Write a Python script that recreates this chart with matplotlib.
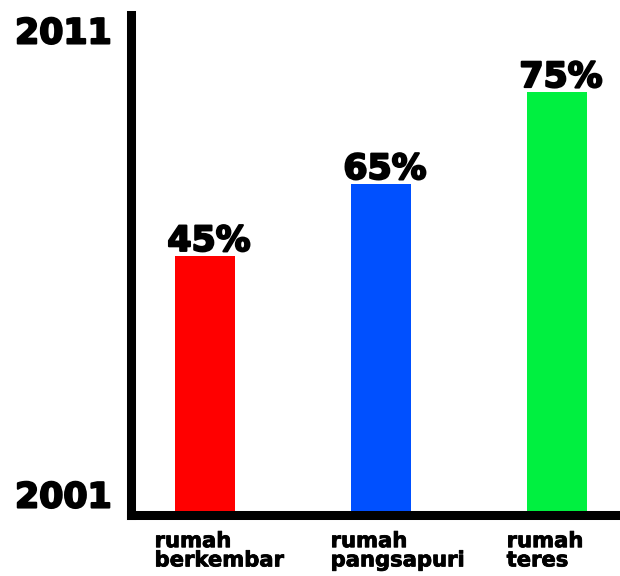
import matplotlib
matplotlib.use("Agg")
import matplotlib.pyplot as plt
import matplotlib.patheffects as pe

categories = ["rumah\nberkembar", "rumah\npangsapuri", "rumah\nteres"]
value_labels = ["45%", "65%", "75%"]
bar_heights = [51.8, 66.2, 84.6]   # drawn bar lengths (axis 0-100)
bar_colors = ["#ff0000", "#0050ff", "#00f040"]
year_ticks = [4.1, 97]
year_labels = ["2001", "2011"]

FONT = "DejaVu Sans"
bold_fx = [pe.withStroke(linewidth=1.5, foreground="black")]

fig = plt.figure(figsize=(6.2, 5.76), dpi=100)
ax = fig.add_axes([131/620, (576-514.5)/576, (620-131)/620, (514.5-15)/576])

pos = list(range(len(categories)))
ax.bar(pos, bar_heights, width=0.34, color=bar_colors, zorder=1)

ax.set_xlim(-0.419, 2.359)
ax.set_ylim(0, 100)

for s in ["top", "right"]:
    ax.spines[s].set_visible(False)
for s in ["left", "bottom"]:
    ax.spines[s].set_linewidth(6.5)
    ax.spines[s].set_capstyle("projecting")
    ax.spines[s].set_zorder(3)

ax.set_xticks([])
ax.set_yticks(year_ticks)
ax.set_yticklabels(year_labels, fontfamily=FONT, fontweight="bold", fontsize=25)
for t in ax.get_yticklabels():
    t.set_path_effects(bold_fx)
ax.tick_params(axis="y", length=0, pad=14)

for p, h, lab in zip(pos, bar_heights, value_labels):
    ax.annotate(lab, xy=(p, h), xytext=(3, 3.5), textcoords="offset points",
                ha="center", va="baseline", fontfamily=FONT, fontweight="bold",
                fontsize=25, path_effects=bold_fx)

for p, cat in zip(pos, categories):
    ax.annotate(cat, xy=(p - 0.285, 0), xycoords=("data", "axes fraction"),
                xytext=(0, -12), textcoords="offset points",
                ha="left", va="top", fontfamily=FONT, fontweight="bold",
                fontsize=15.2, linespacing=0.95,
                path_effects=[pe.withStroke(linewidth=0.6, foreground="black")],
                annotation_clip=False)

fig.savefig("out.png", dpi=100, facecolor="white")
